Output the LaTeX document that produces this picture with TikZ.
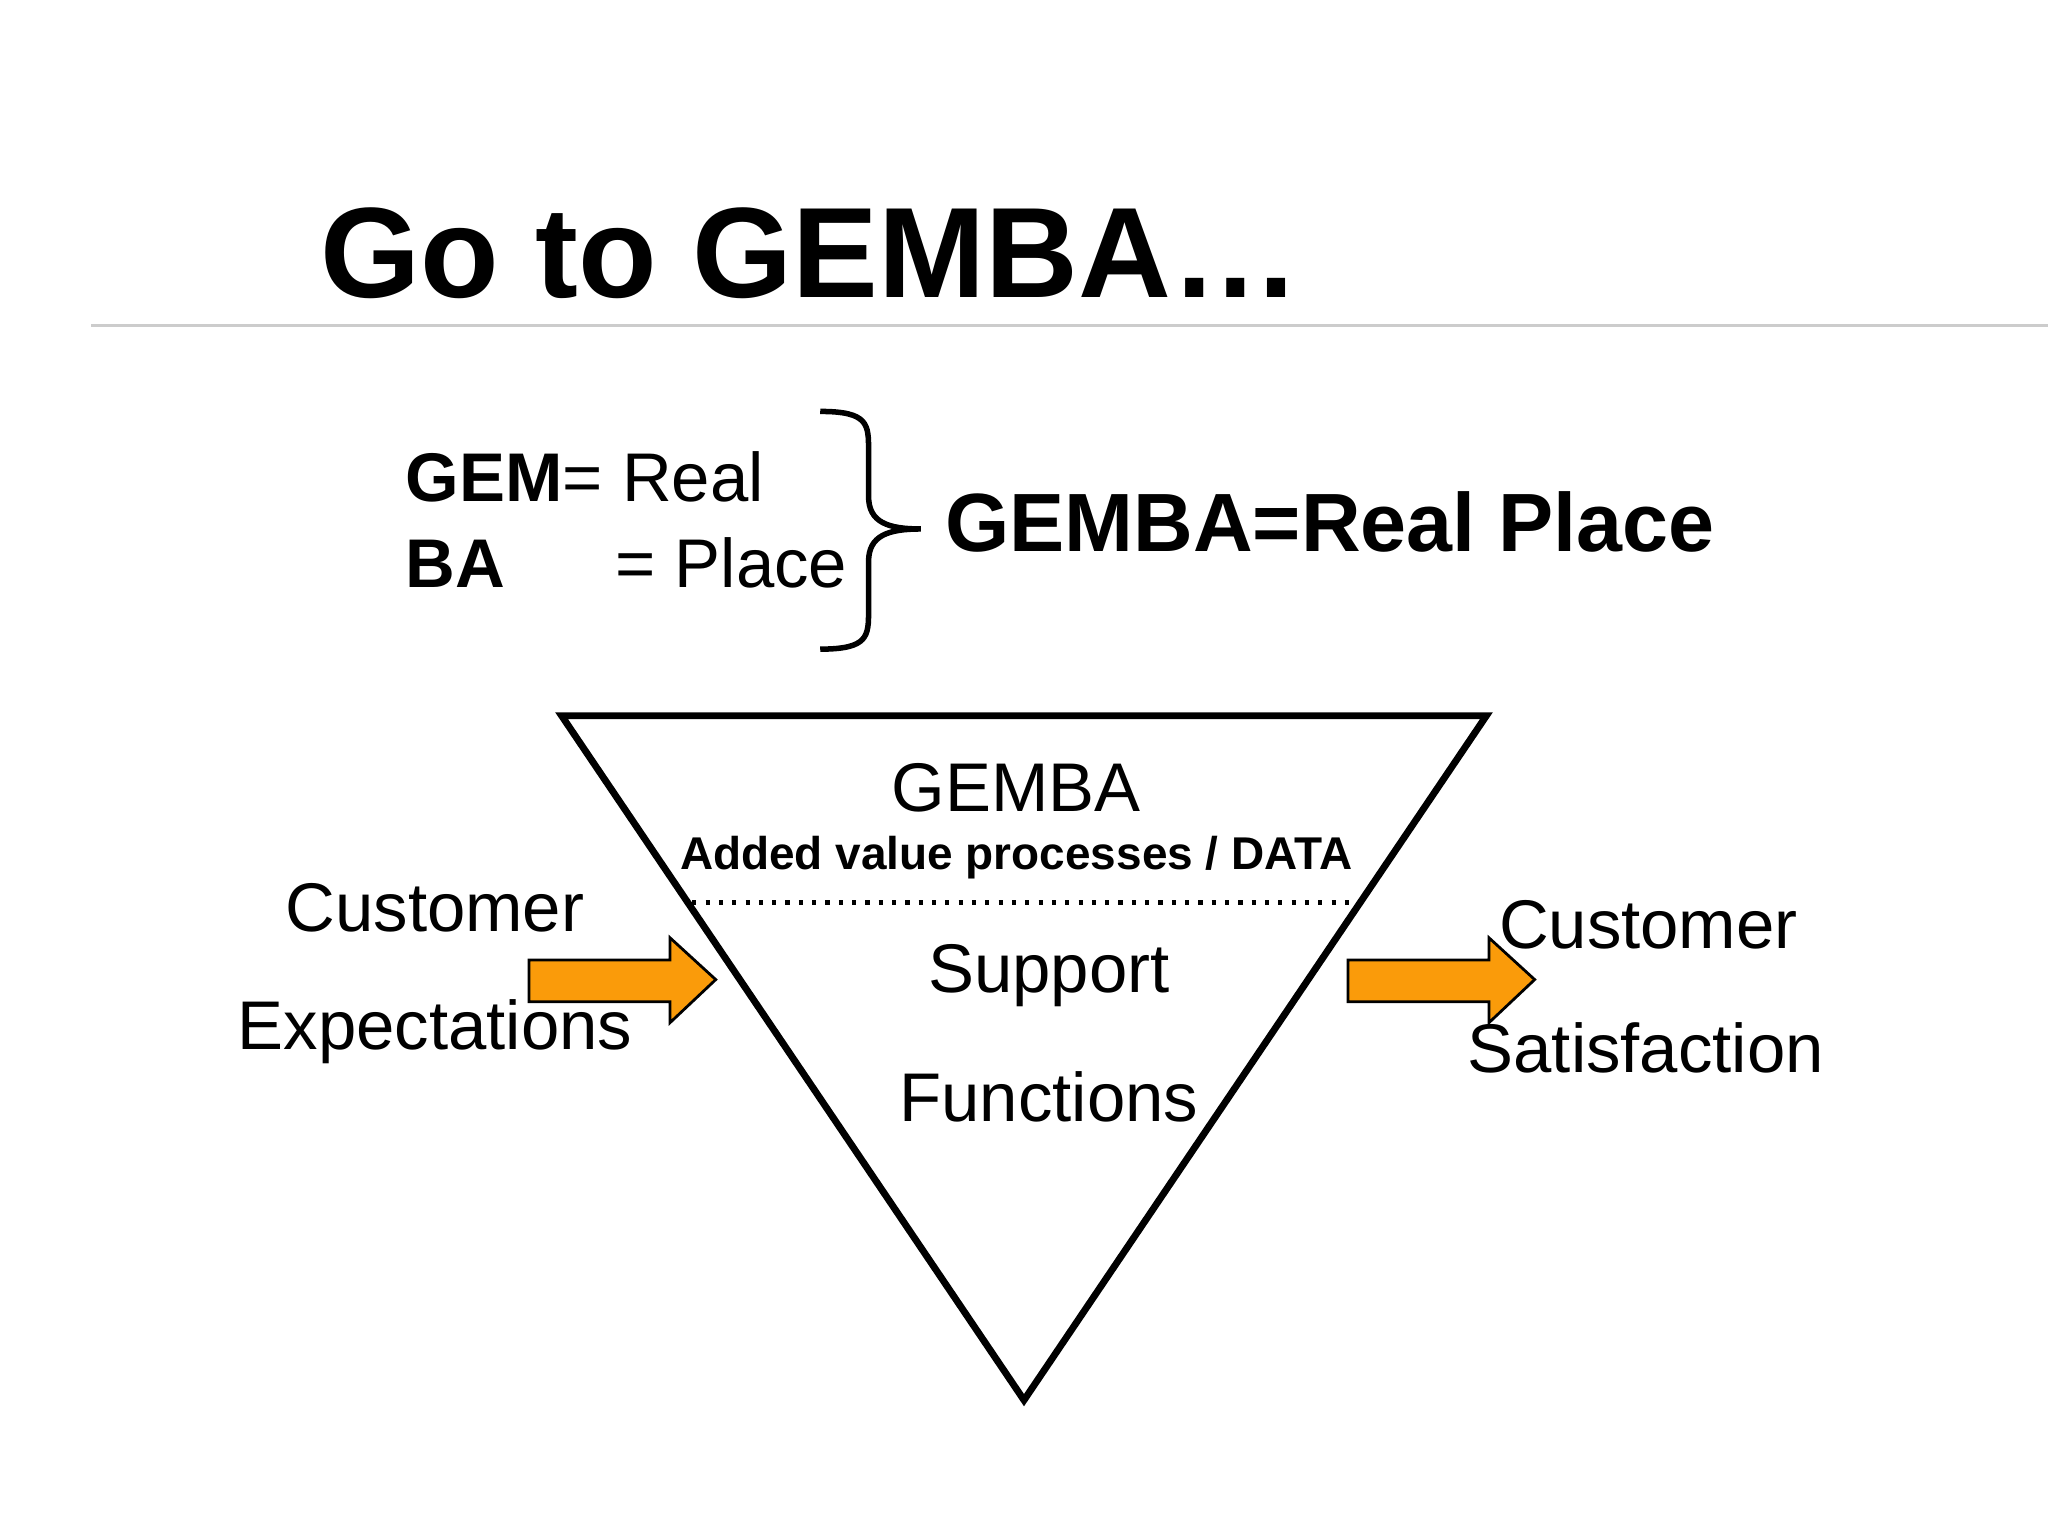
\documentclass[tikz,border=0pt]{standalone}
\usepackage{fontspec}
\setmainfont{Liberation Sans}
\usetikzlibrary{positioning}
\definecolor{gembaorange}{RGB}{250,155,10}
\begin{document}
\begin{tikzpicture}[x=.01cm, y=-.01cm,
  txt/.style={font=\fontsize{15}{18}\selectfont, inner sep=0pt},
  arr/.style={draw=black, line width=.6pt, fill=gembaorange}]
	\useasboundingbox (0,0) rectangle (1568,1176);
	\node[anchor=base west, inner sep=0pt, font=\fontsize{28}{32}\selectfont\bfseries] (title) at (245,228) {Go to GEMBA…};
	\draw[black!20, line width=.6pt] (70,249) -- (1568,249);
%
	\node[txt, anchor=base west] (gem) at (310,384) {\textbf{GEM}= Real};
	\node[txt, anchor=base west] (ba) at (310,450) {\textbf{BA}\hspace{1.6em}= Place};
	\coordinate (btop) at (628,315);
	\coordinate (bbot) at (628,497);
	\coordinate (btip) at (705,405);
	\draw[line width=1.2pt] (btop) .. controls (665,315) and (665,325) .. (665,345) -- (665,380)
	  .. controls (665,400) and (680,405) .. (btip)
	  .. controls (680,405) and (665,410) .. (665,430) -- (665,467)
	  .. controls (665,487) and (665,497) .. (bbot);
	\node[anchor=west, inner sep=0pt, font=\fontsize{18}{22}\selectfont\bfseries] (real) at (723,400) {GEMBA=Real Place};
%
	\coordinate (tl) at (430,548);
	\coordinate (tr) at (1138,548);
	\coordinate (tb) at (784,1072);
	\draw[line width=1.5pt] (tl) -- (tr) -- (tb) -- cycle;
	\node[txt] (gemba) at (778,603) {GEMBA};
	\node[inner sep=0pt, font=\fontsize{10}{12}\selectfont\bfseries] (added) at (778,657) {Added value processes / DATA};
	\coordinate (dl) at (530,691);
	\coordinate (dr) at (1040,691);
	\draw[dotted, line width=.9pt] (dl) -- (dr);
	\node[txt] (support) at (803,747) {Support};
	\node[txt] (func) at (803,840) {Functions};
%
	\node[txt] (cust1) at (333,695) {Customer};
	\node[txt] (expect) at (333,790) {Expectations};
	\draw[arr] (405,735) -- (513,735) -- (513,718) -- (548,750) -- (513,783) -- (513,767) -- (405,767) -- cycle;
	\draw[arr] (1032,735) -- (1140,735) -- (1140,718) -- (1175,750) -- (1140,783) -- (1140,767) -- (1032,767) -- cycle;
	\node[txt] (cust2) at (1262,708) {Customer};
	\node[txt] (satis) at (1260,802) {Satisfaction};
\end{tikzpicture}
\end{document}
